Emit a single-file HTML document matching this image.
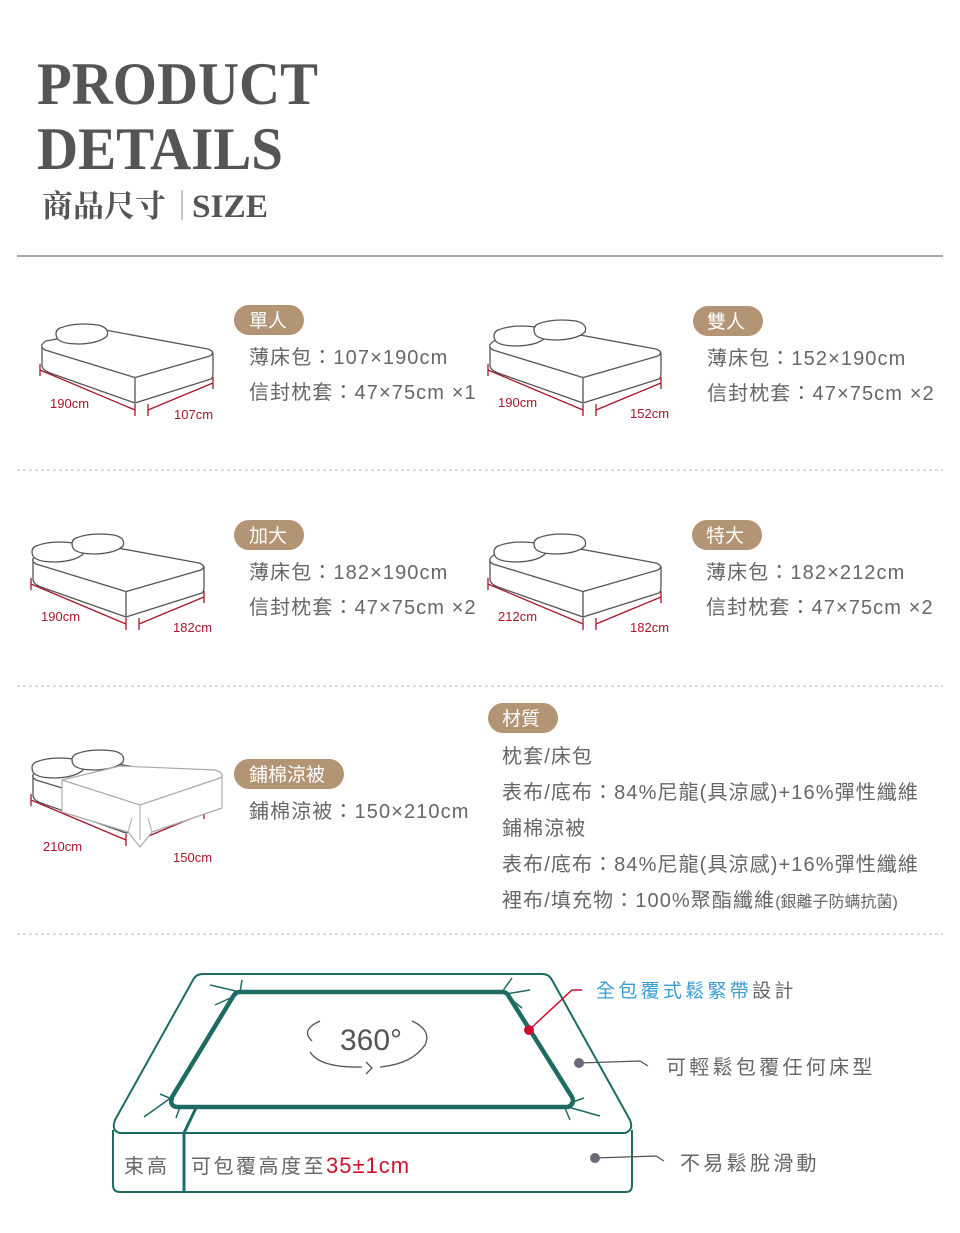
<!DOCTYPE html>
<html><head><meta charset="utf-8"><style>
html,body{margin:0;padding:0;background:#fff;}
svg{display:block}
.t{font-family:"Liberation Sans","Noto Sans CJK TC",sans-serif;fill:#666;font-size:20px;letter-spacing:1.1px}
.p{font-family:"Liberation Sans","Noto Sans CJK TC",sans-serif;fill:#fff;font-size:19px}
.d{font-family:"Liberation Sans",sans-serif;fill:#a8162a;font-size:13px}
.h{font-family:"Liberation Serif","Noto Serif CJK SC",serif;fill:#555;font-weight:bold}
</style></head><body>
<svg width="960" height="1233" viewBox="0 0 960 1233" xmlns="http://www.w3.org/2000/svg">
<defs>
<g id="bed" fill="#fff" stroke="#555" stroke-width="1.3" stroke-linejoin="round">
 <path d="M42,345 L42,365 Q42,370 50,373 L135,403 L211,379 Q213,378 213,372 L213,353 Z"/>
 <path d="M46,341 L105,330 L208,349 Q216,352 210,356 L137,377 Q135,378 130,376 L45,350 Q38,346 46,341 Z"/>
 <path d="M135,378 L135,403" fill="none"/>
 <path d="M40,370 L135,410 M40,364 L40,376 M135,404 L135,416 M148,410 L213,383 M148,404 L148,416 M213,377 L213,389" stroke="#a8162a" fill="none"/>
</g>
<path id="pil" d="M60,328 Q75,322 98,325 Q110,328 107,336 Q100,343 80,344 Q60,344 57,338 Q54,331 60,328 Z" fill="#fff" stroke="#555" stroke-width="1.3"/>
</defs>
<text class="h" x="37" y="104" font-size="60" textLength="281" lengthAdjust="spacingAndGlyphs">PRODUCT</text>
<text class="h" x="37" y="169" font-size="60" textLength="246" lengthAdjust="spacingAndGlyphs">DETAILS</text>
<text class="h" x="42" y="217" font-size="31" font-weight="normal">商品尺寸</text>
<line x1="182" y1="190" x2="182" y2="220" stroke="#888" stroke-width="1"/>
<text class="h" x="192" y="217" font-size="33" font-weight="normal" textLength="76" lengthAdjust="spacingAndGlyphs">SIZE</text>
<line x1="17" y1="256" x2="943" y2="256" stroke="#555" stroke-width="1"/>
<g stroke="#bbb" stroke-dasharray="3,3" stroke-width="1"><line x1="17" y1="470" x2="943" y2="470"/><line x1="17" y1="686" x2="943" y2="686"/><line x1="17" y1="934" x2="943" y2="934"/></g>

<use href="#bed"/><use href="#pil"/>
<text class="d" x="50" y="408">190cm</text><text class="d" x="174" y="419">107cm</text>
<g transform="translate(448,0)"><use href="#bed"/><use href="#pil" transform="translate(-10,2)"/><use href="#pil" transform="translate(30,-4)"/></g>
<text class="d" x="498" y="407">190cm</text><text class="d" x="630" y="418">152cm</text>
<rect x="234" y="305" width="70" height="30" rx="15" fill="#b39474"/><text class="p" x="249" y="327">單人</text>
<text class="t" x="249" y="364">薄床包：107×190cm</text><text class="t" x="249" y="399">信封枕套：47×75cm ×1</text>
<rect x="693" y="306" width="70" height="30" rx="15" fill="#b39474"/><text class="p" x="707" y="328">雙人</text>
<text class="t" x="707" y="365">薄床包：152×190cm</text><text class="t" x="707" y="400">信封枕套：47×75cm ×2</text>

<g transform="translate(-9,214)"><use href="#bed"/><use href="#pil" transform="translate(-15,4)"/><use href="#pil" transform="translate(25,-4)"/></g>
<text class="d" x="41" y="621">190cm</text><text class="d" x="173" y="632">182cm</text>
<g transform="translate(448,214)"><use href="#bed"/><use href="#pil" transform="translate(-10,4)"/><use href="#pil" transform="translate(30,-4)"/></g>
<text class="d" x="498" y="621">212cm</text><text class="d" x="630" y="632">182cm</text>
<rect x="234" y="520" width="70" height="30" rx="15" fill="#b39474"/><text class="p" x="249" y="542">加大</text>
<text class="t" x="249" y="579">薄床包：182×190cm</text><text class="t" x="249" y="614">信封枕套：47×75cm ×2</text>
<rect x="692" y="520" width="70" height="30" rx="15" fill="#b39474"/><text class="p" x="706" y="542">特大</text>
<text class="t" x="706" y="579">薄床包：182×212cm</text><text class="t" x="706" y="614">信封枕套：47×75cm ×2</text>

<g transform="translate(-9,430)"><use href="#bed"/><use href="#pil" transform="translate(-15,4)"/><use href="#pil" transform="translate(25,-4)"/></g>
<path d="M62,780 L62,812 L128,832 L140,847 L152,832 L222,808 L222,776 Z" fill="#fff" stroke="#aaa" stroke-width="1.2" stroke-linejoin="round"/>
<path d="M62,780 L120,766 L215,770 Q226,774 220,778 L140,805 Z" fill="#fff" stroke="#aaa" stroke-width="1.2" stroke-linejoin="round"/>
<path d="M140,805 L140,840 M128,832 L132,818 M152,832 L148,818" fill="none" stroke="#aaa" stroke-width="1"/>
<text class="d" x="43" y="851">210cm</text><text class="d" x="173" y="862">150cm</text>
<rect x="234" y="759" width="110" height="30" rx="15" fill="#b39474"/><text class="p" x="249" y="781">鋪棉涼被</text>
<text class="t" x="249" y="818">鋪棉涼被：150×210cm</text>
<rect x="488" y="703" width="70" height="30" rx="15" fill="#b39474"/><text class="p" x="502" y="725">材質</text>
<text class="t" x="502" y="763">枕套/床包</text>
<text class="t" x="502" y="799">表布/底布：84%尼龍(具涼感)+16%彈性纖維</text>
<text class="t" x="502" y="835">鋪棉涼被</text>
<text class="t" x="502" y="871">表布/底布：84%尼龍(具涼感)+16%彈性纖維</text>
<text class="t" x="502" y="907">裡布/填充物：100%聚酯纖維<tspan font-size="16" style="letter-spacing:0">(銀離子防螨抗菌)</tspan></text>

<g fill="none" stroke="#1e6b63" stroke-linejoin="round">
 <path d="M113,1130 L113,1185 Q113,1192 120,1192 L626,1192 Q632,1192 632,1185 L632,1130" stroke-width="2"/>
 <path d="M120,1133 L625,1133 Q634,1130 630,1120 L552,980 Q549,974 542,974 L203,974 Q196,974 193,980 L115,1120 Q111,1131 120,1133 Z" stroke-width="2"/>
 <path d="M177,1107 L568,1107 Q575,1104 572,1097 L508,995 Q506,992 502,992 L240,992 Q236,992 234,995 L172,1097 Q169,1106 177,1107 Z" stroke-width="4.5"/>
 <path d="M196,1108 L184,1133 L184,1192" stroke-width="3"/>
 <path d="M240,992 L210,985 M237,995 L215,1005 M240,992 L242,980 M502,992 L512,978 M506,994 L530,990 M507,996 L522,1008 M172,1097 L144,1117 M174,1100 L160,1094 M180,1107 L176,1118 M568,1107 L600,1116 M570,1103 L584,1098 M565,1108 L570,1120" stroke-width="1.5"/>
</g>
<path d="M312,1041 Q300,1030 320,1021 M412,1021 Q432,1030 425,1045 Q412,1064 380,1067 M362,1067 Q320,1068 310,1052" fill="none" stroke="#555" stroke-width="1.3"/>
<path d="M366,1062 L372,1068 L366,1074" fill="none" stroke="#555" stroke-width="1.3"/>
<text x="340" y="1050" font-family="Liberation Sans,sans-serif" font-size="30" fill="#555">360°</text>
<text class="t" x="124" y="1173" style="letter-spacing:3px">束高</text>
<text class="t" x="191" y="1173" style="letter-spacing:2.5px">可包覆高度至<tspan fill="#d0122c" font-size="22" style="letter-spacing:1px">35±1cm</tspan></text>
<path d="M529,1030 L572,990 L582,990" fill="none" stroke="#c8102e" stroke-width="1.5"/>
<circle cx="529" cy="1030" r="5" fill="#c8102e"/>
<text x="596" y="997" font-family="Liberation Sans,Noto Sans CJK TC,sans-serif" font-size="19" letter-spacing="3.3" fill="#3a9bd5">全包覆式鬆緊帶<tspan fill="#666">設計</tspan></text>
<path d="M579,1063 L640,1061 L648,1066" fill="none" stroke="#555" stroke-width="1.3"/>
<circle cx="579" cy="1063" r="5" fill="#6a6a7a"/>
<text class="t" x="666" y="1074" style="letter-spacing:3.3px">可輕鬆包覆任何床型</text>
<path d="M595,1158 L656,1156 L664,1161" fill="none" stroke="#555" stroke-width="1.3"/>
<circle cx="595" cy="1158" r="5" fill="#6a6a7a"/>
<text class="t" x="680" y="1170" style="letter-spacing:3.3px">不易鬆脫滑動</text>
</svg>
</body></html>
